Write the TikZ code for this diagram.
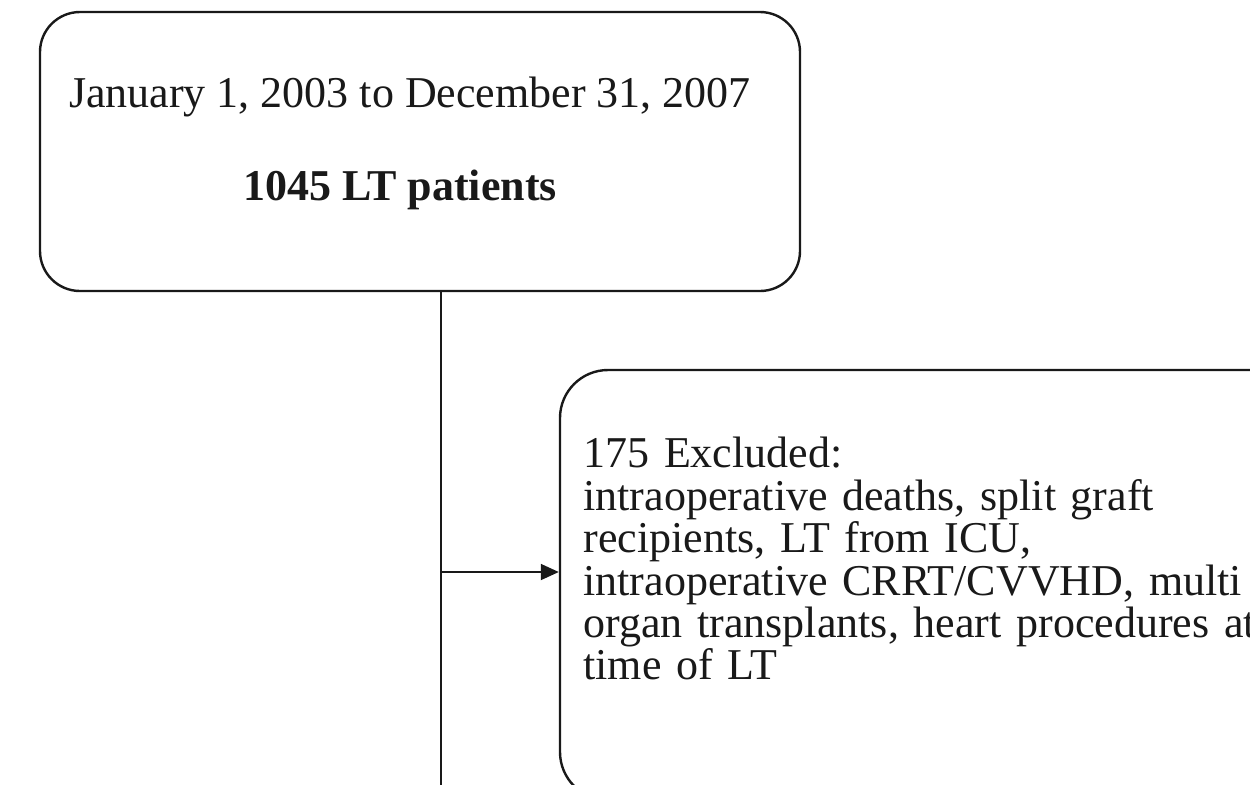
\documentclass[tikz,border=0pt]{standalone}
\usepackage{fontspec}
\setmainfont{Liberation Serif}
\usetikzlibrary{arrows.meta,positioning,calc}
\definecolor{ink}{RGB}{25,25,25}
\tikzset{
  box/.style  = {draw=ink, line width=1.2pt, rounded corners=20pt, fill=white,
                 inner sep=0pt},
  txt/.style  = {text=ink, font=\fontsize{22}{21.2}\selectfont, inner sep=0pt},
  link/.style = {draw=ink, line width=0.9pt},
  flow/.style = {link, -{Triangle[length=9pt, width=8pt]}},
}

\begin{document}
\begin{tikzpicture}[x=0.5pt, y=-0.5pt]
\useasboundingbox (0,0) rectangle (1250,784);
\clip (0,0) rectangle (1250,784);
% cohort box
\node[box, minimum width=380pt, minimum height=139.5pt] (cohort) at (420,151.5) {};
\node[txt, align=center] (period) at (410,97) {January 1, 2003 to December 31, 2007};
\node[txt, font=\fontsize{22}{21.2}\selectfont\bfseries] (total) at (400,190) {1045 LT patients};
% exclusion box
\node[box, minimum width=370pt, minimum height=215pt, rounded corners=24pt] (excl) at (930,585) {};
\node[txt, anchor=north west, align=left, text width=400pt] (reasons) at (583,437)
  {175 Excluded:\\
   intraoperative deaths, split graft\\
   recipients, LT from ICU,\\
   intraoperative CRRT/CVVHD, multi\\
   organ transplants, heart procedures at\\
   time of LT};
% connectors
\coordinate (down) at (441,800);
\coordinate (split) at (441,572);
\draw[link] (cohort.south -| split) -- (down);
\draw[flow] (split) -- (excl.west |- split);
\end{tikzpicture}
\end{document}
